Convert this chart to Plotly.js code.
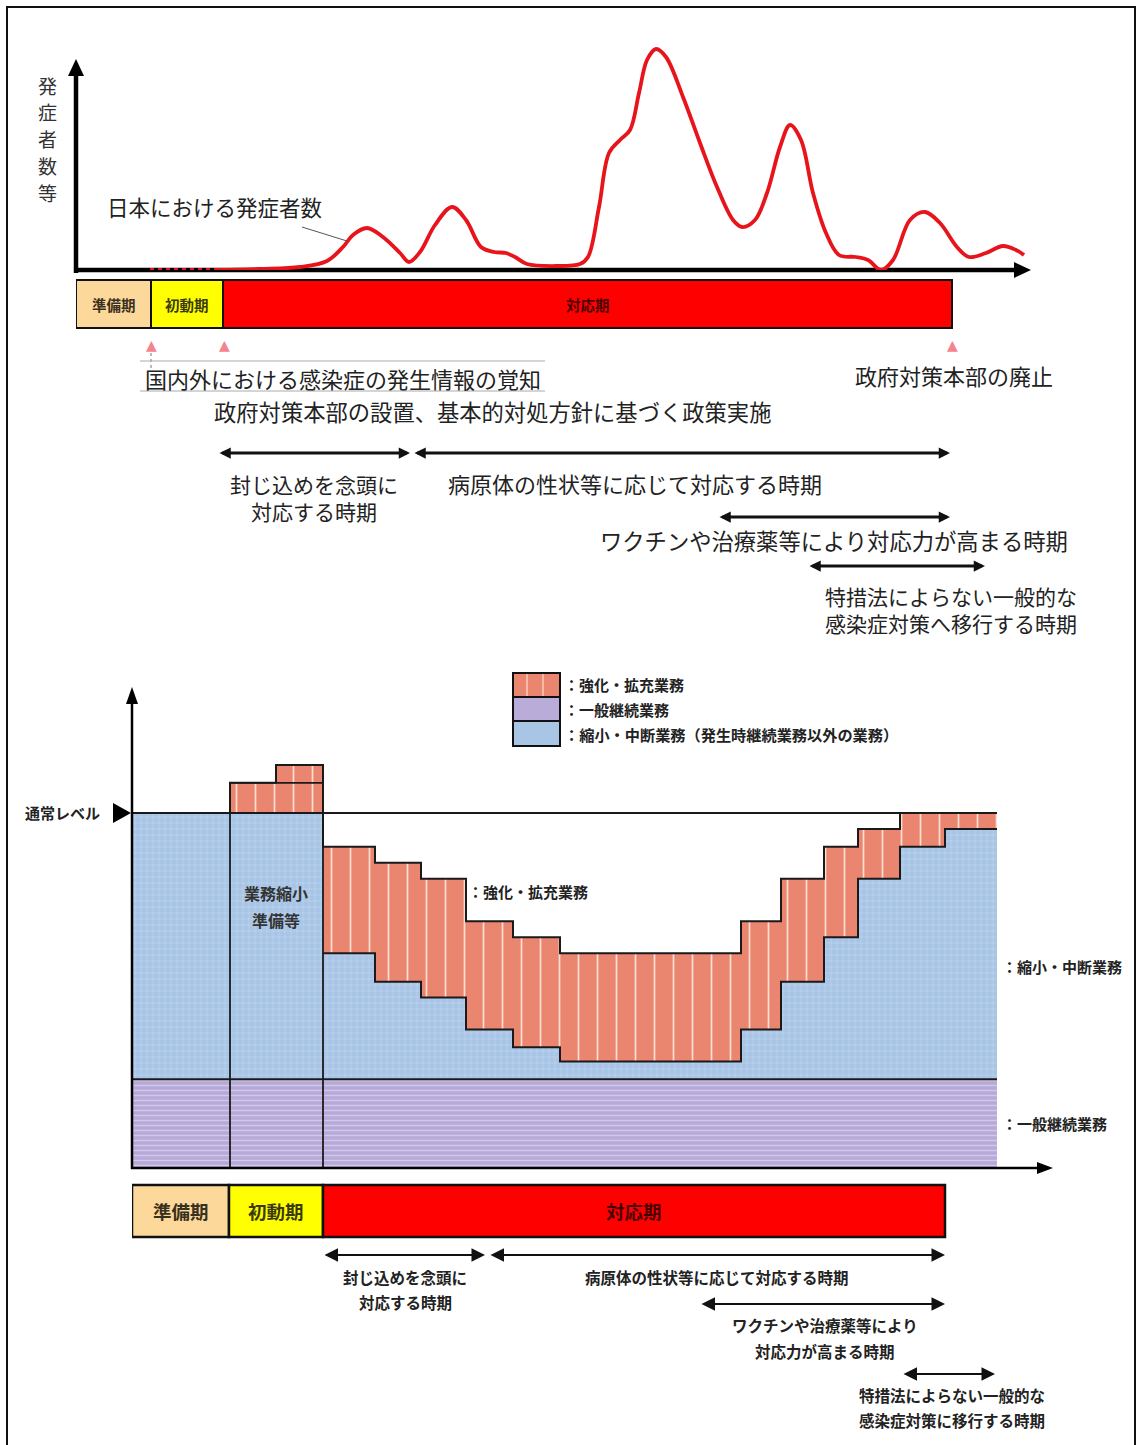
<!DOCTYPE html>
<html><head><meta charset="utf-8">
<script src="https://cdn.plot.ly/plotly-3.0.1.min.js"></script>
<style>html,body{margin:0;padding:0;background:#fff}</style>
</head><body>
<div id="chart" style="width:1141px;height:1445px"></div>
<script>
// ================= DATA =================
// Top chart: number of patients over time (arbitrary units)
const curveT = [13.9,18.4,22.4,25.1,26.7,27.7,29.1,30.7,32.4,33.3,34.4,35.9,37.6,39.0,40.5,41.8,43.0,43.9,45.1,48.1,50.4,51.2,52.3,53.3,54.4,55.4,56.3,57.1,58.0,59.0,60.7,62.4,64.1,65.7,66.6,67.9,69.1,70.4,71.4,72.5,73.7,75.0,76.3,78.0,79.2,80.5,81.7,83.4,84.9,86.4,88.1,89.3,91.0,92.7,94.0,94.8];
const curveV = [0,1,3,9,23,35,42,33,17,8,18,45,63,50,23,18,17,13,6,4,6,13,63,117,130,140,177,210,221,213,173,127,83,50,43,50,77,123,145,130,77,37,15,13,10,0,10,50,58,47,23,13,17,24,20,15];
const dotT = [7.4, 13.9];
const dotV = [0, 0];
const curveLabel = '日本における発症者数';
const yLabelTop = ['発','症','者','数','等'];

const phaseNames = ['準備期','初動期','対応期'];
const topPhaseEdges = [0, 7.5, 14.7, 87.6];
const bottomPhaseEdges = [0, 9.7, 19.1, 81.3];

const topEventT = [7.5, 14.8, 87.6];
const topEventLabels = ['国内外における感染症の発生情報の覚知','政府対策本部の設置、基本的対処方針に基づく政策実施','政府対策本部の廃止'];

const topPeriodStart = [14.2, 33.7, 64.2, 73.2];
const topPeriodEnd   = [33.4, 87.4, 87.4, 90.9];
const topPeriodLabels = [['封じ込めを念頭に','対応する時期'],['病原体の性状等に応じて対応する時期'],['ワクチンや治療薬等により対応力が高まる時期'],['特措法によらない一般的な','感染症対策へ移行する時期']];

// Bottom chart: workload levels (normal level = 100)
const colEdges  = [0, 9.8, 14.4, 19.1, 24.3, 28.9, 33.4, 38.1, 42.8, 60.9, 64.9, 69.2, 72.6, 76.8, 81.3, 86.5];
const orangeTop = [100, 108.5, 113.5, 90.5, 86, 81.5, 69.5, 65, 60.5, 69.5, 81.5, 90.5, 95.5, 100, 100];
const blueTop   = [100, 100, 100, 60.5, 52.5, 48, 39, 34, 30, 39, 52.5, 65, 81.5, 90.5, 95.5];
const generalLevel = 25;
const normalLevel = 100;
const legendLabels = ['：強化・拡充業務','：一般継続業務','：縮小・中断業務（発生時継続業務以外の業務）'];

const bottomPeriodStart = [19.1, 35.7, 56.8, 77.0];
const bottomPeriodEnd   = [35.3, 81.3, 81.3, 86.3];
const bottomPeriodLabels = [['封じ込めを念頭に','対応する時期'],['病原体の性状等に応じて対応する時期'],['ワクチンや治療薬等により','対応力が高まる時期'],['特措法によらない一般的な','感染症対策に移行する時期']];

// ================= LAYOUT HELPERS =================
const W = 1141, H = 1445;
const P = x => x / W;
const Q = y => 1 - y / H;
const FONT = '"Noto Sans CJK JP", "Noto Sans", sans-serif';
const shapes = [];
const ann = [];

function pline(x0, y0, x1, y1, color, width, dash, layer) {
  shapes.push({type:'line', xref:'paper', yref:'paper', x0:P(x0), y0:Q(y0), x1:P(x1), y1:Q(y1),
    line:{color:color, width:width, dash:dash||'solid'}, layer:layer||'above'});
}
function ppath(pts, color, layer) {
  const d = pts.map((p,i)=>(i?'L':'M')+P(p[0])+','+Q(p[1])).join(' ')+' Z';
  shapes.push({type:'path', xref:'paper', yref:'paper', path:d, fillcolor:color, line:{width:0}, layer:layer||'above'});
}
function prect(x0, y0, x1, y1, fill, lw, layer) {
  shapes.push({type:'rect', xref:'paper', yref:'paper', x0:P(x0), y0:Q(y1), x1:P(x1), y1:Q(y0),
    fillcolor:fill, line:{color:'#111', width:lw}, layer:layer||'above'});
}
function txt(x, y, text, size, xanchor, color, bold) {
  ann.push({xref:'paper', yref:'paper', x:P(x), y:Q(y), text: bold ? '<b>'+text+'</b>' : text,
    showarrow:false, xanchor:xanchor||'center', yanchor:'middle', align:xanchor==='right'?'right':'center',
    font:{family:FONT, size:size, color:color||'#1e1e1e'}});
}
function dblArrow(xref, t0, t1, ypx, width, size) {
  ann.push({xref:xref, yref:'paper', x:t1, y:Q(ypx), axref:xref, ax:t0, ayref:'pixel', ay:0,
    text:'', showarrow:true, arrowside:'end+start', arrowhead:2, startarrowhead:2,
    arrowwidth:width, arrowsize:size, startarrowsize:size, arrowcolor:'#111', standoff:0, startstandoff:0});
}

// outer frame
shapes.push({type:'rect', xref:'paper', yref:'paper', x0:P(7), x1:P(1135), y0:Q(1452), y1:Q(7),
  line:{color:'#111', width:2}, fillcolor:'rgba(0,0,0,0)', layer:'below'});

// ================= TOP CHART =================
pline(76, 273, 76, 74, '#000', 4.5, 'solid', 'below');
ppath([[68,76],[84,76],[76,59]], '#000', 'below');
pline(74, 270, 1016, 270, '#000', 4.5, 'solid', 'below');
ppath([[1014,262],[1014,278],[1031,270]], '#000', 'below');

// vertical y label, one character per line
yLabelTop.forEach((ch, i) => txt(47, 85 + i * 26.75, ch, 19, 'center', '#333'));
txt(105, 207, curveLabel, 21.5, 'left', '#222');
pline(302, 227, 347, 241, '#555', 1);

// phase bar (top)
const phaseColors = ['#fcd99a', '#ffff00', '#ff0000'];
const phaseTextColors = ['#3a3020', '#3a3a10', '#4a0000'];
for (let i = 0; i < phaseNames.length; i++) {
  shapes.push({type:'rect', xref:'x', yref:'paper', x0:topPhaseEdges[i], x1:topPhaseEdges[i+1], y0:Q(328), y1:Q(280),
    fillcolor:phaseColors[i], line:{color:'#111', width:2}});
  ann.push({xref:'x', yref:'paper', x:(topPhaseEdges[i]+topPhaseEdges[i+1])/2, y:Q(304), yanchor:'middle', xanchor:'center',
    text:'<b>'+phaseNames[i]+'</b>', showarrow:false, font:{family:FONT, size:14.5, color:phaseTextColors[i]}});
}
// event markers
topEventT.forEach(t => ann.push({xref:'x', yref:'paper', x:t, y:Q(345), yanchor:'middle', xanchor:'center', text:'▲', showarrow:false,
  font:{family:'DejaVu Sans', size:14, color:'#f4838d'}}));
pline(151, 353, 151, 371, '#777', 1, 'dot');
pline(140, 361, 545, 361, '#aaa', 1);
pline(140, 391, 545, 391, '#aaa', 1);
txt(143, 378, topEventLabels[0], 22, 'left', '#222');
txt(212, 411, topEventLabels[1], 22.3, 'left', '#222');
txt(853, 375, topEventLabels[2], 22, 'left', '#222');

// period arrows (top)
const topRowsY = [453, 453, 517, 566];
for (let i = 0; i < topPeriodStart.length; i++) dblArrow('x', topPeriodStart[i], topPeriodEnd[i], topRowsY[i], 3, 0.75);
txt(314, 498, topPeriodLabels[0].join('<br>'), 21, 'center', '#222');
txt(635, 483, topPeriodLabels[1][0], 22, 'center', '#222');
txt(834, 540, topPeriodLabels[2][0], 22.3, 'center', '#222');
txt(1079, 609, topPeriodLabels[3].join('<br>'), 21, 'right', '#222');

// ================= BOTTOM CHART =================
// legend
prect(513, 673, 560, 697, '#ea8570', 2);
pline(527, 674, 527, 696, '#f8cdb9', 1.5);
pline(543, 674, 543, 696, '#f8cdb9', 1.5);
prect(513, 697, 560, 721, '#b9acd9', 2);
prect(513, 721, 560, 746, '#a8c5e5', 2);
txt(562, 685, legendLabels[0], 15, 'left', '#222', true);
txt(562, 709, legendLabels[1], 15, 'left', '#222', true);
txt(562, 734, legendLabels[2], 15.2, 'left', '#222', true);

// axes
pline(132, 1169, 132, 703, '#000', 2.5);
ppath([[126,704],[138,704],[132,687]], '#000');
pline(131, 1168, 1038, 1168, '#000', 2.5);
ppath([[1037,1162],[1037,1174],[1053,1168]], '#000');
// normal level marker
txt(102, 813, '通常レベル', 15, 'right', '#222', true);
ppath([[113,803],[113,823],[131,813]], '#000');

// labels inside
txt(276, 893, '業務縮小', 16, 'center', '#333', true);
txt(276, 920, '準備等', 16, 'center', '#333', true);
txt(466, 891, legendLabels[0], 15, 'left', '#222', true);
txt(1000, 966, '：縮小・中断業務', 15, 'left', '#222', true);
txt(1000, 1123, legendLabels[1], 15, 'left', '#222', true);

// phase bar (bottom)
for (let i = 0; i < phaseNames.length; i++) {
  shapes.push({type:'rect', xref:'x2', yref:'paper', x0:bottomPhaseEdges[i], x1:bottomPhaseEdges[i+1], y0:Q(1237), y1:Q(1185),
    fillcolor:phaseColors[i], line:{color:'#111', width:2.5}});
  ann.push({xref:'x2', yref:'paper', x:(bottomPhaseEdges[i]+bottomPhaseEdges[i+1])/2, y:Q(1211), yanchor:'middle', xanchor:'center',
    text:'<b>'+phaseNames[i]+'</b>', showarrow:false, font:{family:FONT, size:18.5, color:phaseTextColors[i]}});
}
// period arrows (bottom)
const bottomRowsY = [1255, 1255, 1304, 1374];
for (let i = 0; i < bottomPeriodStart.length; i++) dblArrow('x2', bottomPeriodStart[i], bottomPeriodEnd[i], bottomRowsY[i], 2, 1.35);
txt(405, 1277, bottomPeriodLabels[0][0], 15.5, 'center', '#222', true);
txt(405, 1302, bottomPeriodLabels[0][1], 15.5, 'center', '#222', true);
txt(717, 1277, bottomPeriodLabels[1][0], 15.5, 'center', '#222', true);
txt(825, 1325, bottomPeriodLabels[2][0], 15.5, 'center', '#222', true);
txt(825, 1351, bottomPeriodLabels[2][1], 15.5, 'center', '#222', true);
txt(952, 1395, bottomPeriodLabels[3][0], 15.5, 'center', '#222', true);
txt(952, 1420, bottomPeriodLabels[3][1], 15.5, 'center', '#222', true);

// ================= TRACES =================
const centers = [], widths = [];
for (let i = 0; i < colEdges.length - 1; i++) { centers.push((colEdges[i]+colEdges[i+1])/2); widths.push(colEdges[i+1]-colEdges[i]); }
const nCols = centers.length;
const traces = [];
traces.push({x:curveT, y:curveV, xaxis:'x', yaxis:'y', type:'scatter', mode:'lines',
  line:{color:'#e8141c', width:3.8, shape:'spline', smoothing:1}, hoverinfo:'skip', cliponaxis:false});
traces.push({x:dotT, y:dotV, xaxis:'x', yaxis:'y', type:'scatter', mode:'lines',
  line:{color:'#e8141c', width:4, dash:'dot'}, hoverinfo:'skip', cliponaxis:false});

traces.push({type:'bar', x:centers, width:widths, base:centers.map(()=>0), y:centers.map(()=>generalLevel),
  xaxis:'x2', yaxis:'y2', hoverinfo:'skip',
  marker:{color:'#b7a9d8', line:{width:0}, pattern:{shape:'-', fgcolor:'#d2c8ea', bgcolor:'#b7a9d8', size:5, solidity:0.3, fillmode:'replace'}}});
traces.push({type:'bar', x:centers, width:widths, base:centers.map(()=>generalLevel), y:blueTop.map(v=>v-generalLevel),
  xaxis:'x2', yaxis:'y2', hoverinfo:'skip',
  marker:{color:'#a8c5e5', line:{width:0}, pattern:{shape:'+', fgcolor:'#c6daf0', bgcolor:'#a8c5e5', size:6, solidity:0.15, fillmode:'replace'}}});
traces.push({type:'bar', x:centers, width:widths, base:blueTop, y:orangeTop.map((v,i)=>v-blueTop[i]),
  xaxis:'x2', yaxis:'y2', hoverinfo:'skip',
  marker:{color:'#ea8570', line:{width:0}, pattern:{shape:'|', fgcolor:'#fbe0d2', bgcolor:'#ea8570', size:19, solidity:0.09, fillmode:'replace'}}});

const oX = [colEdges[1]], oY = [normalLevel];
for (let i = 1; i < nCols; i++) { oX.push(colEdges[i]); oY.push(orangeTop[i]); }
oX.push(colEdges[nCols]); oY.push(orangeTop[nCols-1]);
traces.push({x:oX, y:oY, xaxis:'x2', yaxis:'y2', type:'scatter', mode:'lines', line:{color:'#1a1a1a', width:2, shape:'hv'}, hoverinfo:'skip'});
const bX = [], bY = [];
for (let i = 3; i < nCols; i++) { bX.push(colEdges[i]); bY.push(blueTop[i]); }
bX.push(colEdges[nCols]); bY.push(blueTop[nCols-1]);
traces.push({x:bX, y:bY, xaxis:'x2', yaxis:'y2', type:'scatter', mode:'lines', line:{color:'#1a1a1a', width:2, shape:'hv'}, hoverinfo:'skip'});
traces.push({x:[colEdges[0], colEdges[nCols]], y:[normalLevel, normalLevel], xaxis:'x2', yaxis:'y2', type:'scatter', mode:'lines', line:{color:'#1a1a1a', width:1.8}, hoverinfo:'skip'});
traces.push({x:[colEdges[0], colEdges[nCols]], y:[generalLevel, generalLevel], xaxis:'x2', yaxis:'y2', type:'scatter', mode:'lines', line:{color:'#1a1a1a', width:1.8}, hoverinfo:'skip'});
traces.push({x:[colEdges[1], colEdges[1]], y:[0, orangeTop[1]], xaxis:'x2', yaxis:'y2', type:'scatter', mode:'lines', line:{color:'#1a1a1a', width:1.8}, hoverinfo:'skip'});
traces.push({x:[colEdges[3], colEdges[3]], y:[0, orangeTop[2]], xaxis:'x2', yaxis:'y2', type:'scatter', mode:'lines', line:{color:'#1a1a1a', width:1.8}, hoverinfo:'skip'});
traces.push({x:[colEdges[1], colEdges[1], colEdges[3], colEdges[3]], y:[normalLevel, orangeTop[1], orangeTop[2], normalLevel], xaxis:'x2', yaxis:'y2', type:'scatter', mode:'lines', line:{color:'#1a1a1a', width:1.8, shape:'hv'}, hoverinfo:'skip'});

const hidden = {showgrid:false, zeroline:false, showticklabels:false, showline:false, ticks:'', fixedrange:true};
const layout = {
  width:W, height:H, margin:{l:0, r:0, t:0, b:0}, paper_bgcolor:'#fff', plot_bgcolor:'rgba(0,0,0,0)',
  showlegend:false, barmode:'overlay', bargap:0,
  xaxis: Object.assign({domain:[P(76), P(1030)], range:[0, 95.4], anchor:'y'}, hidden),
  yaxis: Object.assign({domain:[Q(270), Q(40)], range:[0, 230], anchor:'x'}, hidden),
  xaxis2: Object.assign({domain:[P(132), P(1052)], range:[0, 92], anchor:'y2'}, hidden),
  yaxis2: Object.assign({domain:[Q(1168), Q(688)], range:[0, 480/3.55], anchor:'x2'}, hidden),
  shapes: shapes, annotations: ann
};
Plotly.newPlot('chart', traces, layout, {staticPlot:true, displayModeBar:false});
</script>
</body></html>
